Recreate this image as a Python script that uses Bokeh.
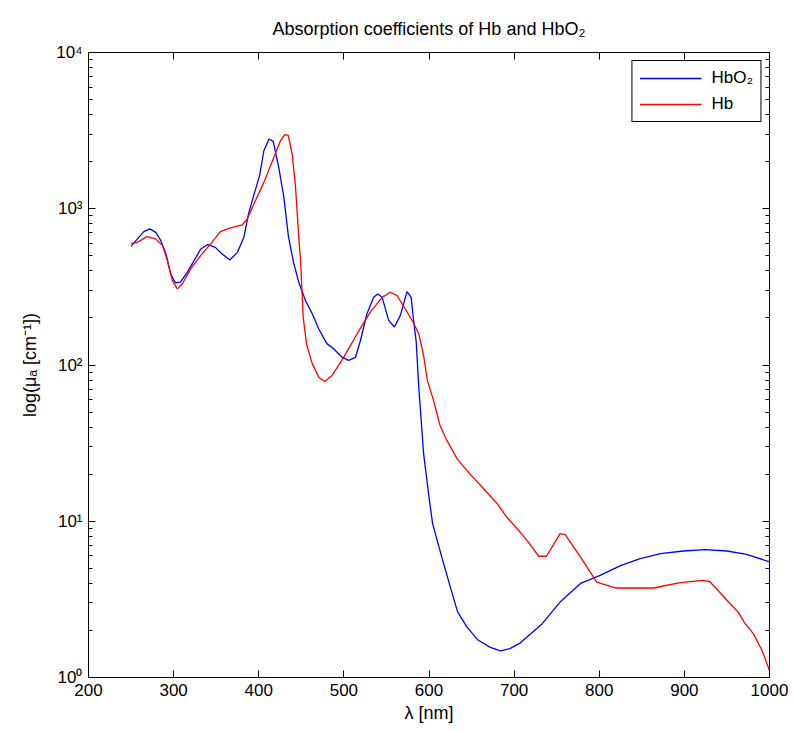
from bokeh.plotting import figure
from bokeh.models import (LinearAxis, LogAxis, FixedTicker, CustomJSTickFormatter, Range1d)
from bokeh.embed import file_html
from bokeh.resources import INLINE

# ---- data ----
hbo2_wl = [250, 257.5, 265, 272, 279, 285, 291, 296.5, 302, 308, 316, 324, 332, 340, 349,
           357, 366, 375, 382.5, 388, 394, 401, 406, 412, 417, 423.5, 429.5, 435, 441, 447,
           455, 463, 470.5, 480, 488, 498, 505.7, 513.6, 519.4, 527, 535, 539.7, 545, 552.6,
           559.3, 566.3, 574.2, 579, 582, 585, 588, 593.7, 599.5, 604.2, 615, 625, 633.6,
           644.6, 658, 672, 684, 695, 707, 733, 754, 778, 801, 825, 848, 872, 899, 924, 950,
           973, 1000]
hbo2_mu = [575, 641, 714, 743, 706, 625, 514, 383, 335, 339, 392, 466, 553, 590, 566,
           514, 470, 526, 656, 927, 1213, 1628, 2351, 2795, 2700, 1841, 1183, 656, 450, 339,
           258, 212, 170, 137, 127, 112, 107, 112, 143, 212, 271, 285, 271, 193,
           175, 207, 295, 271, 190, 140, 72, 27, 15, 9.66, 5.9, 3.8, 2.63,
           2.1, 1.73, 1.56, 1.48, 1.53, 1.66, 2.21, 3.04, 4.0, 4.5, 5.2, 5.76, 6.2, 6.45, 6.58, 6.45,
           6.14, 5.5]

hb_wl = [250, 255.5, 262, 268.4, 279, 287, 292.7, 298.5, 304.4, 310.3, 320, 331.7, 343.5,
         355, 367, 380.6, 386.5, 394.3, 406, 417.7, 425.6, 430.6, 434.6, 439.3, 443.2, 447,
         449, 452.2, 456, 462.8, 470.5, 477.5, 486.2, 499.8, 515.5, 531, 545, 554.6, 562.5,
         572, 582, 588, 593.7, 598, 605, 613, 621, 633, 648, 664, 680, 691.5, 707, 715, 729,
         738, 754, 760, 778, 797, 819, 864, 895, 922, 930, 950, 963, 971, 981, 991, 1000]
hb_mu = [601, 604, 630, 663, 641, 581, 466, 347, 307, 331, 412, 501, 596,
         714, 754, 788, 860, 1074, 1475, 2131, 2725, 2978, 2950, 2240, 1371, 656,
         480, 202, 137, 102, 83.6, 78.4, 85.7, 112, 158, 218, 271, 292, 278,
         229, 185, 158, 115, 80, 60, 41, 32.9, 25.1, 20.1, 16.2, 13, 10.6, 8.53, 7.55, 5.97,
         5.97, 8.33, 8.2, 5.9, 4.08, 3.74, 3.74, 4.05, 4.19, 4.1, 3.12, 2.63, 2.23, 1.91, 1.5, 1.11]

x_ticks = [200, 300, 400, 500, 600, 700, 800, 900, 1000]
y_ticks = [1, 10, 100, 1000, 10000]

FONT = "Liberation Sans"

p = figure(frame_width=681, frame_height=625,
           x_range=Range1d(200, 1000), y_range=Range1d(1, 10000),
           y_axis_type="log", output_backend="svg", toolbar_location=None,
           title="Absorption coefficients of Hb and HbO₂")
p.min_border_left = 88
p.min_border_right = 26
p.min_border_top = 52
p.min_border_bottom = 54
p.background_fill_color = "white"
p.border_fill_color = "white"
p.outline_line_color = "black"
p.outline_line_width = 1
p.xgrid.visible = False
p.ygrid.visible = False

p.title.align = "center"
p.title.text_font = FONT
p.title.text_font_size = "18px"
p.title.text_font_style = "normal"
p.title.text_color = "black"
p.title.standoff = 28

y_minor = [m * 10 ** d for d in range(4) for m in range(2, 10)]
yfmt = CustomJSTickFormatter(code="""
const s = {0:'\u2070',1:'\u00b9',2:'\u00b2',3:'\u00b3',4:'\u2074'};
return '10' + s[Math.round(Math.log10(tick))];
""")
blank = CustomJSTickFormatter(code="return '';")


def style(ax):
    ax.axis_line_color = "black"
    ax.major_tick_line_color = "black"
    ax.minor_tick_line_color = "black"
    ax.major_tick_in = 7
    ax.major_tick_out = 0
    ax.minor_tick_in = 4
    ax.minor_tick_out = 0
    ax.major_label_text_font = FONT
    ax.major_label_text_font_size = "17px"
    ax.major_label_text_color = "black"
    ax.axis_label_text_font = FONT
    ax.axis_label_text_font_size = "18px"
    ax.axis_label_text_font_style = "normal"
    ax.axis_label_text_color = "black"


xa = p.xaxis[0]
xa.ticker = FixedTicker(ticks=x_ticks, minor_ticks=[])
xa.axis_label = "λ [nm]"
xa.axis_label_standoff = 4
xa.major_label_standoff = 6
style(xa)

ya = p.yaxis[0]
ya.ticker = FixedTicker(ticks=y_ticks, minor_ticks=y_minor)
ya.formatter = yfmt
ya.axis_label = "log(μₐ [cm⁻¹])"
ya.axis_label_standoff = 13
ya.major_label_standoff = 6
style(ya)

top = LinearAxis(ticker=FixedTicker(ticks=x_ticks, minor_ticks=[]), formatter=blank)
style(top)
top.major_label_standoff = 0
p.add_layout(top, "above")

right = LogAxis(ticker=FixedTicker(ticks=y_ticks, minor_ticks=y_minor), formatter=blank)
style(right)
right.major_label_standoff = 0
p.add_layout(right, "right")

p.line(hbo2_wl, hbo2_mu, line_color="#0000ff", line_width=1.3, legend_label="HbO₂")
p.line(hb_wl, hb_mu, line_color="#ff0000", line_width=1.3, legend_label="Hb")

legend = p.legend[0]
legend.location = "top_right"
legend.border_line_color = "black"
legend.border_line_width = 1
legend.border_line_alpha = 1
legend.background_fill_alpha = 1
legend.label_text_font = FONT
legend.label_text_font_size = "17px"
legend.label_text_color = "black"
legend.glyph_width = 62
legend.glyph_height = 16
legend.label_height = 16
legend.spacing = 6
legend.padding = 7
legend.margin = 8
legend.label_standoff = 10

open("out.html", "w").write(file_html(p, INLINE))
